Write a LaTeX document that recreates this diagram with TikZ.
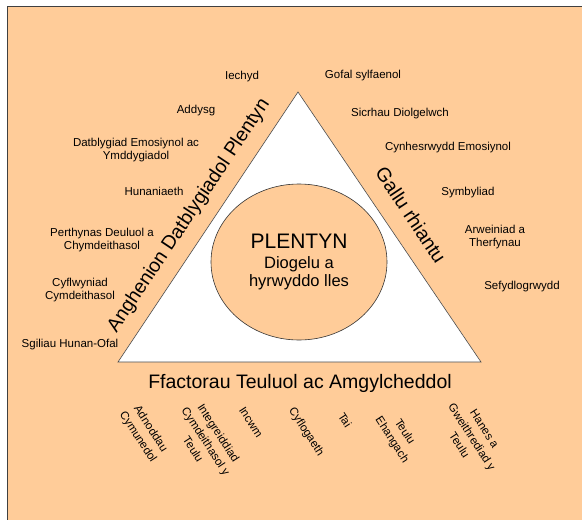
\documentclass[tikz,border=0pt]{standalone}
\usepackage{fontspec}
\setmainfont{Liberation Sans}
\definecolor{peach}{HTML}{FFCC99}

\begin{document}
\begin{tikzpicture}[x=1pt,y=-1pt,
  need/.style={font=\fontsize{11.5}{13}\selectfont, align=center, inner sep=0pt},
  factor/.style={font=\fontsize{11.5}{15}\selectfont, align=center, inner sep=0pt, rotate=-57},
  side/.style={font=\fontsize{19.5}{22}\selectfont, inner sep=0pt}]
\useasboundingbox (0,0) rectangle (582,520);
%background
\fill[white] (0,0) rectangle (582,520);
\draw[fill=peach, draw=black!75, line width=0.9pt] (7,6) rectangle (600,540);
%triangle
\coordinate (T) at (298,92);
\coordinate (BL) at (118,362);
\coordinate (BR) at (481,362);
\draw[fill=white, draw=black!70, line width=0.6pt] (T) -- (BL) -- (BR) -- cycle;
%centre
\draw[fill=peach, draw=black!80, line width=0.6pt] (299,262) ellipse (88 and 78);
\node (P) at (299,241) {\fontsize{21}{24}\selectfont PLENTYN};
\node (P1) at (299,273) [align=center, font=\fontsize{16.5}{18}\selectfont] {Diogelu a\\hyrwyddo lles};
%side labels
\node[side, rotate=56.3] (S1) at (189,216) {Anghenion Datblygiadol Plentyn};
\node[side, rotate=-56.3] (S2) at (411,215) {Gallu rhiantu};
\node[side] (S3) at (300,383) {Ffactorau Teuluol ac Amgylcheddol};
%left branch
\node[need] (L1) at (242,77) {Iechyd};
\node[need] (L2) at (196,111) {Addysg};
\node[need] (L3) at (136,150) {Datblygiad Emosiynol ac\\Ymddygiadol};
\node[need] (L4) at (154,191) {Hunaniaeth};
\node[need] (L5) at (102,240) {Perthynas Deuluol a\\Chymdeithasol};
\node[need] (L6) at (80,290) {Cyflwyniad\\Cymdeithasol};
\node[need] (L7) at (70,345) {Sgiliau Hunan-Ofal};
%right branch
\node[need] (R1) at (363,76) {Gofal sylfaenol};
\node[need] (R2) at (400,114) {Sicrhau Diolgelwch};
\node[need] (R3) at (448,148) {Cynhesrwydd Emosiynol};
\node[need] (R4) at (468,193) {Symbyliad};
\node[need] (R5) at (495,237) {Arweiniad a\\Therfynau};
\node[need] (R6) at (522,287) {Sefydlogrwydd};
%bottom branch
\node[factor] (B1) at (144,433) {Adnoddau\\Cymunedol};
\node[factor] (B2) at (206,441) {Integreiddiad\\Cymdeithasol y\\Teulu};
\node[factor] (B3) at (251,422) {Incwm};
\node[factor] (B4) at (306,432) {Cyflogaeth};
\node[factor] (B5) at (345,420) {Tai};
\node[factor] (B6) at (398,436) {Teulu\\Ehangach};
\node[factor] (B7) at (472,437) {Hanes a\\Gweithrediad y\\Teulu};
\end{tikzpicture}
\end{document}
